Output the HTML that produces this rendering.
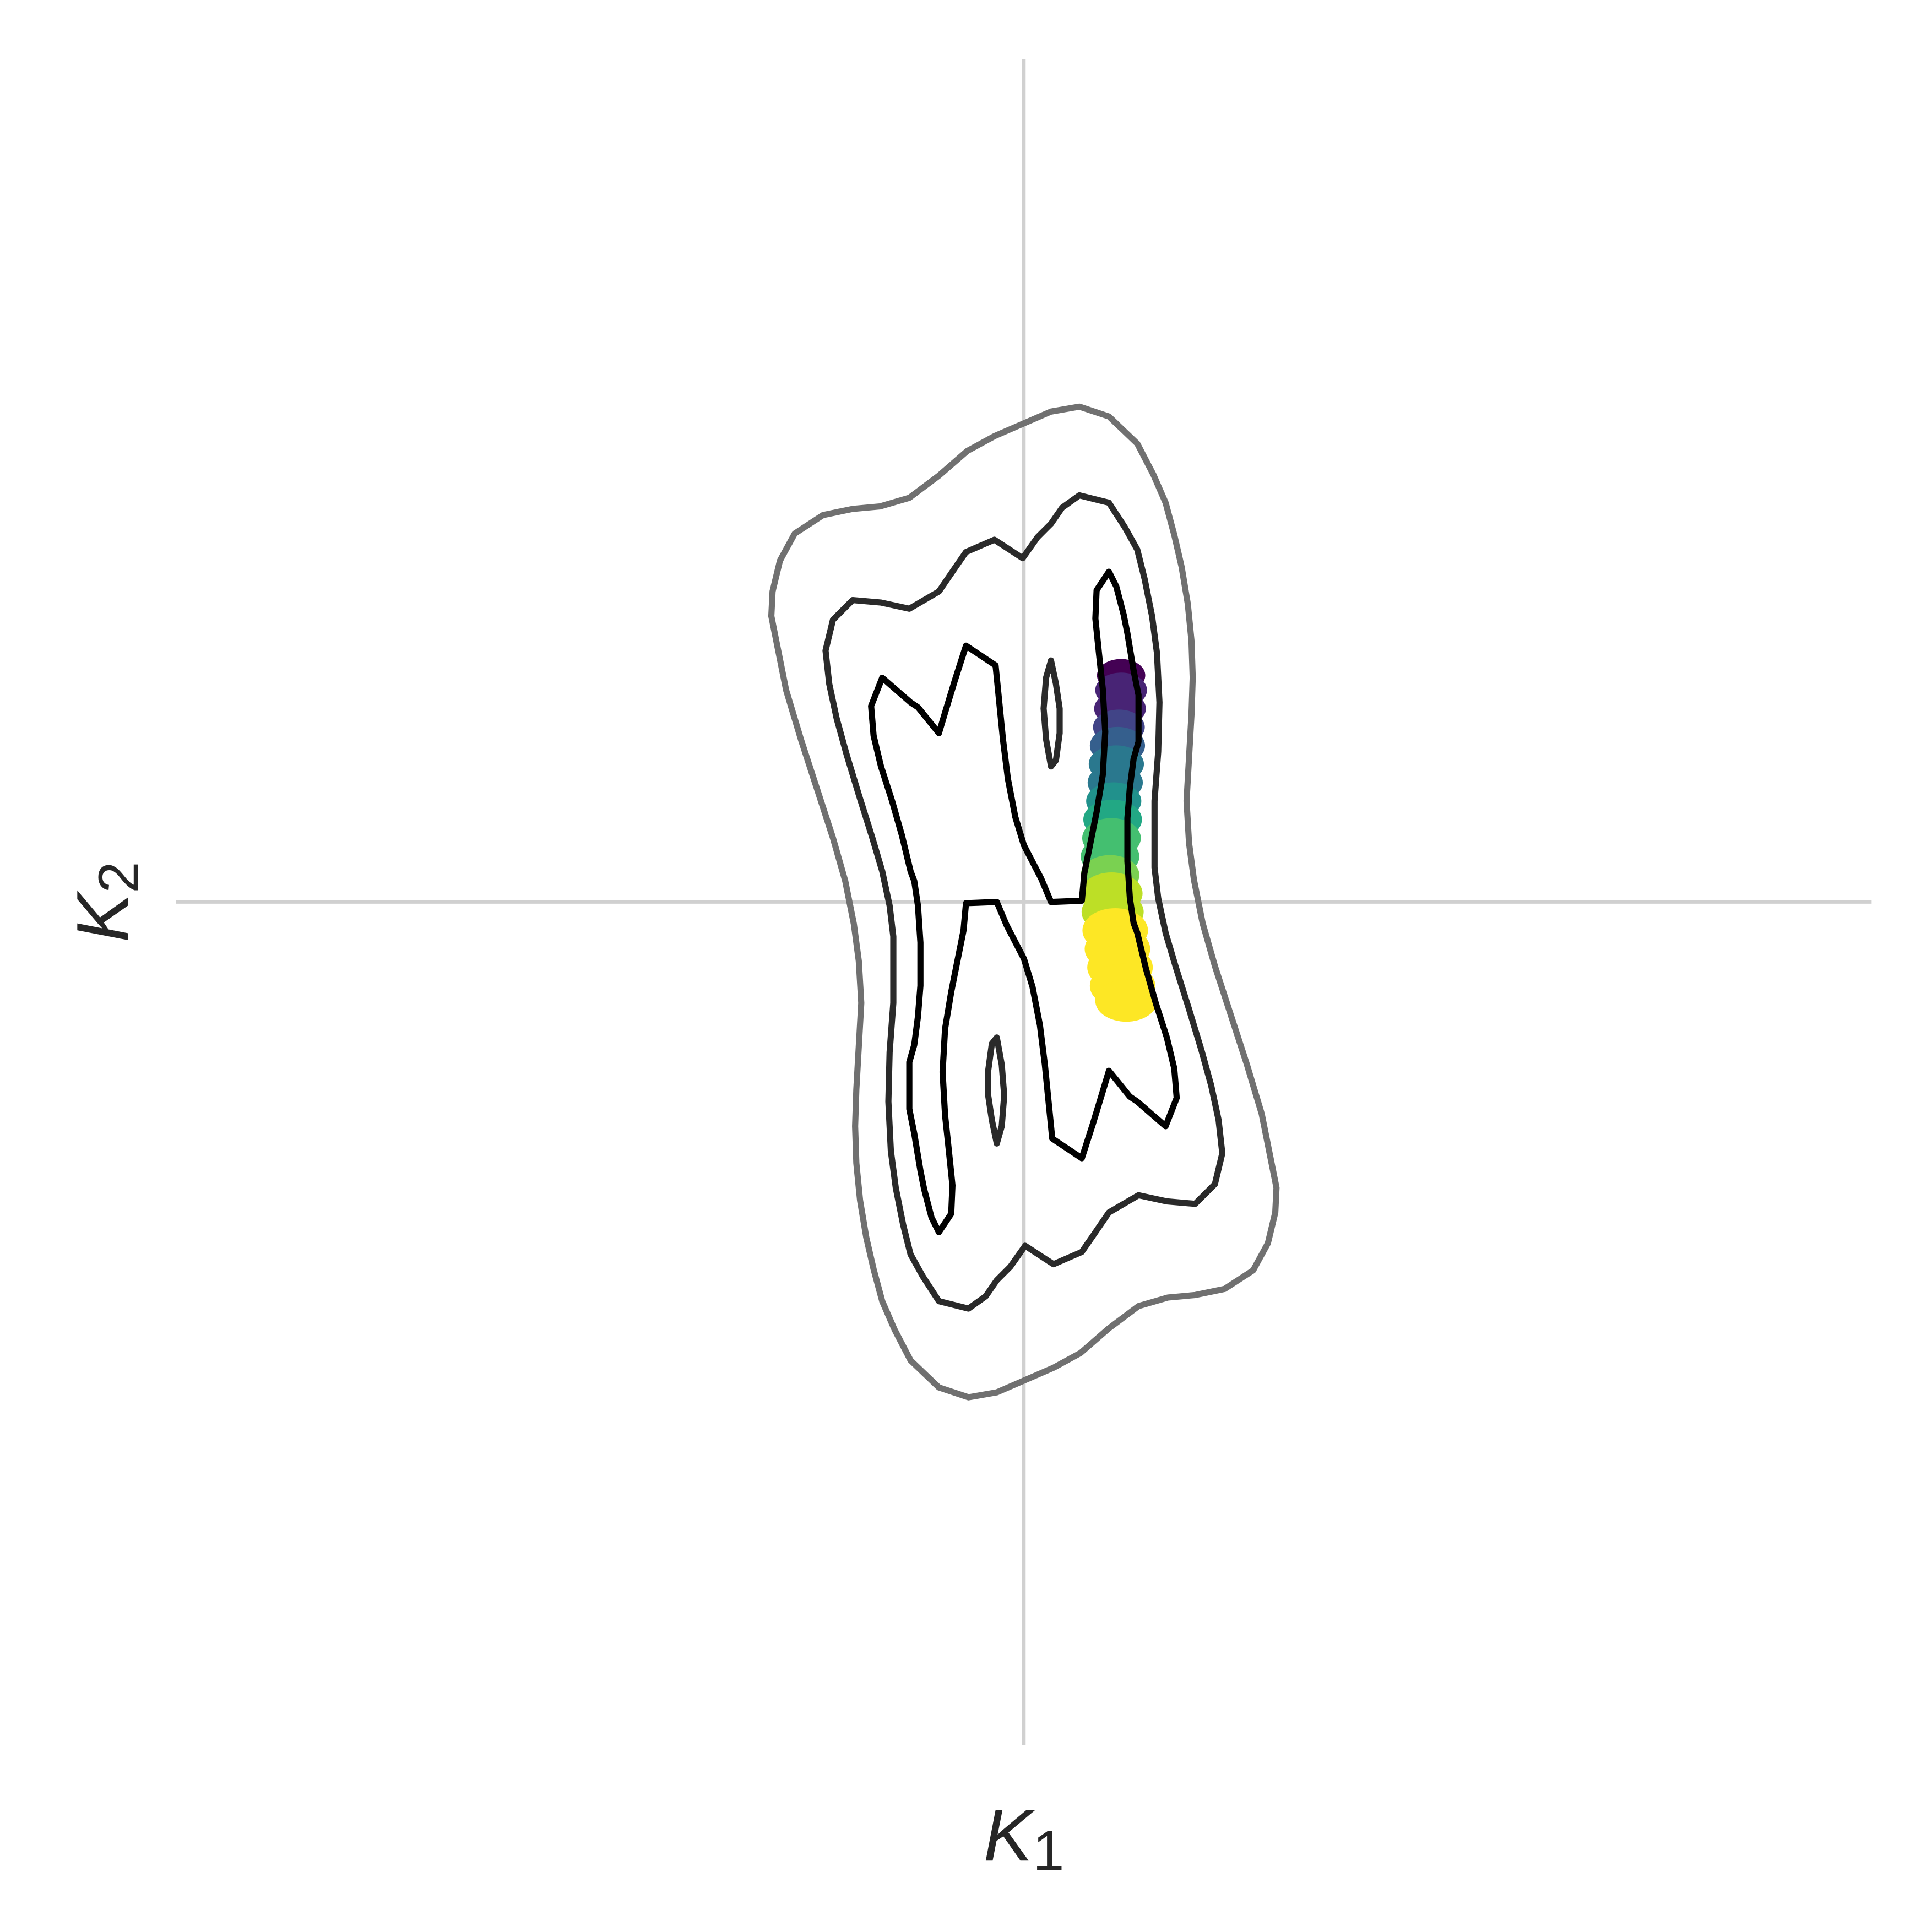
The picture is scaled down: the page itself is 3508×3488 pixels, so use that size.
<!DOCTYPE html>
<html><head><meta charset="utf-8"><style>
html,body{margin:0;padding:0;background:#fff;}
svg{display:block;}
</style></head><body>
<svg xmlns="http://www.w3.org/2000/svg" width="3508" height="3488" viewBox="0 0 1568 1559">
<g id="grid" stroke="#d0d0d0" stroke-width="2.8">
<line x1="831" y1="48" x2="831" y2="1416"/>
<line x1="143" y1="732" x2="1519" y2="732"/>
</g>
<g id="scatter"></g>
<g id="contours" fill="none" stroke-linejoin="round"></g>
<text x="831" y="1510" text-anchor="middle" font-family="Liberation Sans, sans-serif" font-size="60" fill="#262626"><tspan font-style="italic">K</tspan><tspan font-size="46" dy="8">1</tspan></text>
<text transform="translate(104,732) rotate(-90)" text-anchor="middle" font-family="Liberation Sans, sans-serif" font-size="60" fill="#262626"><tspan font-style="italic">K</tspan><tspan font-size="46" dy="8">2</tspan></text>
</svg>
<script>
const NS='http://www.w3.org/2000/svg';
// scatter data (units: K1, K2)
const ptX=[0.263,0.263,0.260,0.257,0.253,0.250,0.247,0.243,0.240,0.237,0.233,0.233,0.237,0.240,0.247,0.253,0.260,0.267,0.277];
const ptY=[0.613,0.573,0.523,0.473,0.423,0.373,0.323,0.273,0.223,0.173,0.123,0.073,0.023,-0.027,-0.077,-0.127,-0.177,-0.227,-0.267];
const ptSize=[14,15,15,15,16,16,16,16,17,17,17,17,18,18,19,19,19,19,18];
const viridis=['#440154','#482475','#414487','#355f8d','#2a788e','#21918c','#22a884','#44bf70','#7ad151','#bddf26','#fde725'];
const cx=831,cy=732,sc=300;
function xs(v){return cx+v*sc;}
function ys(v){return cy-v*sc;}
function col(t){const i=Math.min(viridis.length-1,Math.round(t*(viridis.length-1)));return viridis[i];}
const sg=document.getElementById('scatter');
for(let i=0;i<ptX.length;i++){
 const e=document.createElementNS(NS,'ellipse');
 
 
 e.setAttribute('cx',xs(ptX[i]));e.setAttribute('cy',ys(ptY[i]));
 e.setAttribute('rx',ptSize[i]*1.4);e.setAttribute('ry',ptSize[i]*0.95);
 const t=Math.min(1,(i/(ptX.length-1))*1.3);
 e.setAttribute('fill',col(t));
 sg.appendChild(e);
}
// contour half-paths (pixel coords), completed by point symmetry around center
const outerHalf=[[697,780],[693,750],[686,715],[676,680],[663,640],[650,600],[638,560],[630,520],[626,500],[627,480],[633,455],[645,433],[668,418],[692,413],[714,411],[738,404],[762,386],[785,366],[807,354],[830,344],[853,334],[876,330],[900,338],[923,360],[936,385],[946,408],[953,434],[959,460],[964,490],[967,520],[968,550],[967,580],[965,615],[963,650],[965,684]];
const midHalf=[[725,780],[725,760],[722,735],[716,707],[708,680],[697,645],[687,612],[679,583],[673,555],[670,528],[676,503],[692,487],[715,489],[738,494],[762,480],[775,461],[784,448],[807,438],[830,453],[842,436],[853,425],[862,412],[876,402],[900,408],[913,428],[923,446],[929,470],[935,500],[939,530],[941,570],[940,610],[937,650],[937,684]];
const innerHalf=[[853,732],[845,713],[831,686],[824,663],[818,632],[814,600],[811,570],[808,540],[784,524],[775,552],[768,575],[762,595],[745,574],[739,570],[716,550],[707,573],[709,597],[715,622],[724,650],[732,678],[739,707],[742,715],[745,735],[747,765],[747,800],[745,825],[742,848],[738,862],[738,900],[742,920],[747,950],[750,965],[756,988],[762,1000],[772,985],[773,962],[770,933],[767,905],[765,870],[767,835],[772,805],[777,780],[782,755],[784,733],[809,732]];
const smallLoop=[[853,536],[857,555],[860,575],[860,595],[857,617],[853,622],[849,600],[847,575],[849,550]];
function refl(p){return [2*cx-p[0],2*cy-p[1]];}
function full(h){return h.concat(h.slice(1,-1).map(refl));}
function poly(pts,stroke,name){
 const p=document.createElementNS(NS,'polygon');
 
 
 p.setAttribute('points',pts.map(q=>q.join(',')).join(' '));
 p.setAttribute('stroke',stroke);p.setAttribute('stroke-width','5');
 document.getElementById('contours').appendChild(p);
}
poly(full(outerHalf),'#707070','contour-outer');
poly(full(midHalf),'#2a2a2a','contour-middle');
poly(full(innerHalf),'#000000','contour-inner');
poly(smallLoop,'#2a2a2a','contour-small-upper');
poly(smallLoop.map(refl),'#2a2a2a','contour-small-lower');
</script>
</body></html>
